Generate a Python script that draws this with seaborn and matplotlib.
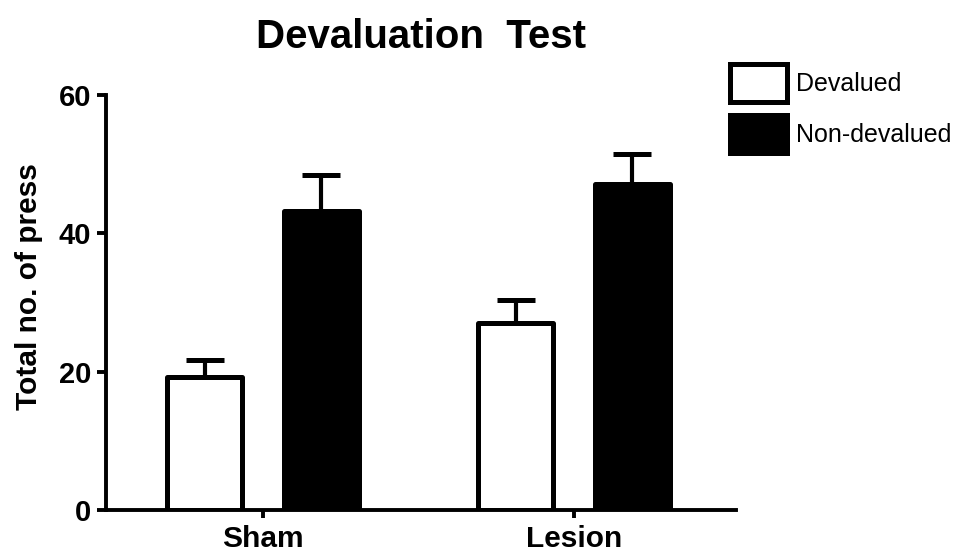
import matplotlib
matplotlib.use("Agg")
import matplotlib.pyplot as plt
import seaborn as sns
import pandas as pd
from matplotlib.patches import Patch

# Lever presses per group (mean with SEM)
groups = ["Sham", "Lesion"]
conditions = ["Devalued", "Non-devalued"]
devalued_mean = [19.2, 27.1]
devalued_sem = [2.5, 3.3]
nondevalued_mean = [43.2, 47.1]
nondevalued_sem = [5.3, 4.3]
y_ticks = [0, 20, 40, 60]

sns.set_style("ticks")
plt.rcParams["font.family"] = ["Liberation Sans", "DejaVu Sans"]
plt.rcParams.update({
    "text.color": "black",
    "axes.labelcolor": "black",
    "axes.edgecolor": "black",
    "xtick.color": "black",
    "ytick.color": "black",
})

df = pd.DataFrame({
    "group": groups * 2,
    "condition": [conditions[0]] * len(groups) + [conditions[1]] * len(groups),
    "presses": devalued_mean + nondevalued_mean,
})
sems = {conditions[0]: devalued_sem, conditions[1]: nondevalued_sem}

fig = plt.figure(figsize=(9.57, 5.56), dpi=100)
ax = fig.add_axes([106 / 957, 1 - 510 / 556, 630 / 957, 415 / 556])

sns.barplot(
    data=df, x="group", y="presses", hue="condition",
    order=groups, hue_order=conditions,
    palette={conditions[0]: "white", conditions[1]: "black"},
    saturation=1, width=0.75, gap=0.36, errorbar=None,
    edgecolor="black", linewidth=3.6, legend=False, ax=ax,
)

# Upward-only SEM bars on top of each bar
for cond, container in zip(conditions, ax.containers):
    for patch in container:
        patch.set_joinstyle("round")
        xc = patch.get_x() + patch.get_width() / 2
        idx = int(round(xc))
        h = patch.get_height()
        _, caps, _ = ax.errorbar(
            [xc], [h], yerr=[[0], [sems[cond][idx]]], fmt="none",
            ecolor="black", elinewidth=3.0, capsize=13.5, capthick=3.6,
            zorder=4,
        )
        if len(caps) == 2:
            caps[0].set_visible(False)

ax.set_ylim(0, 60)
ax.set_xlim(-0.505, 1.521)
ax.set_yticks(y_ticks)
ax.set_yticklabels([str(t) for t in y_ticks])
sns.despine(ax=ax)
for side in ("left", "bottom"):
    ax.spines[side].set_linewidth(2.8)
ax.tick_params(axis="y", length=6.5, width=2.8, pad=4, labelsize=21)
ax.tick_params(axis="x", length=6, width=2.8, pad=5, labelsize=21.5)
for lab in ax.get_xticklabels() + ax.get_yticklabels():
    lab.set_fontweight("bold")

ax.set_xlabel("")
ax.set_ylabel("Total no. of press", fontsize=21.5, fontweight="bold")
ax.yaxis.set_label_coords(-0.1, 0.539)
ax.set_title("Devaluation  Test", fontsize=29, fontweight="bold", pad=34)

handles = [
    Patch(facecolor="white", edgecolor="black", linewidth=3.6, joinstyle="round"),
    Patch(facecolor="black", edgecolor="black", linewidth=3.6, joinstyle="round"),
]
fig.legend(
    handles, conditions, loc="upper left",
    bbox_to_anchor=(729.5 / 957, 1 - 64 / 556),
    frameon=False, fontsize=18, handlelength=2.3, handleheight=1.97,
    handletextpad=0.35, labelspacing=0.5, borderpad=0, borderaxespad=0,
)

fig.savefig("out.png", dpi=100)
